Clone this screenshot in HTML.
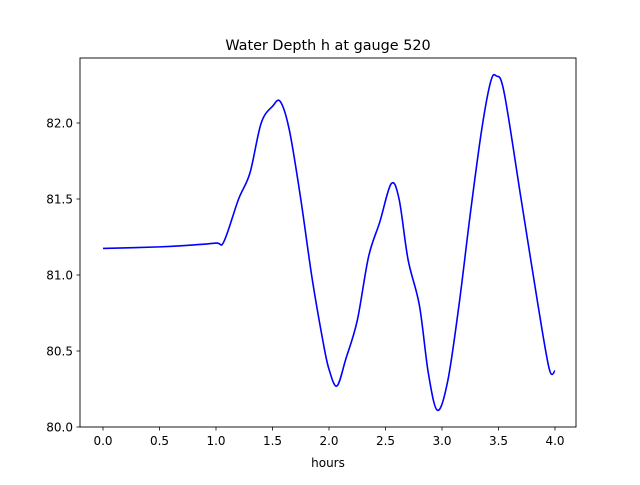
<!DOCTYPE html>
<html><head><meta charset="utf-8"><style>
body{margin:0;background:#fff;}
svg text{font-family:"DejaVu Sans","Liberation Sans",sans-serif;fill:#000;}
</style></head><body>
<svg id="chart" width="640" height="480" xmlns="http://www.w3.org/2000/svg">
<rect width="640" height="480" fill="#fff"/>
<text x="328" y="50" font-size="14.4" text-anchor="middle">Water Depth h at gauge 520</text>
<g id="xt"></g>
<g id="yt"></g>
<path id="line" fill="none" stroke="#0000ff" stroke-width="1.6"/>
<rect x="80" y="58" width="496" height="369" fill="none" stroke="#000" stroke-width="0.9"/>
<text x="328" y="467" font-size="12" text-anchor="middle">hours</text>
</svg>
<script>
const hours=[0,0.5,0.75,1.0,1.07,1.2,1.3,1.4,1.5,1.57,1.65,1.75,1.85,1.95,2.0,2.07,2.15,2.25,2.35,2.45,2.55,2.62,2.7,2.8,2.88,2.96,3.05,3.15,3.25,3.35,3.43,3.48,3.55,3.7,3.85,3.95,4.0];
const depth=[81.175,81.185,81.195,81.21,81.22,81.5,81.67,82.0,82.11,82.14,81.95,81.5,80.98,80.55,80.38,80.27,80.45,80.7,81.12,81.35,81.6,81.5,81.1,80.8,80.35,80.11,80.3,80.8,81.4,81.95,82.27,82.31,82.2,81.5,80.8,80.38,80.37];
const xTicks=[0,0.5,1,1.5,2,2.5,3,3.5,4];
const yTicks=[80,80.5,81,81.5,82];
const X=v=>103+v*113, Y=v=>427-(v-80)*152;
const NS="http://www.w3.org/2000/svg";
const xt=document.getElementById('xt'), yt=document.getElementById('yt');
xTicks.forEach(t=>{
  const l=document.createElementNS(NS,'line');
  
  
  l.setAttribute('x1',X(t));l.setAttribute('x2',X(t));l.setAttribute('y1',427);l.setAttribute('y2',430.5);l.setAttribute('stroke','#000');l.setAttribute('stroke-width','0.8');
  xt.appendChild(l);
  const s=document.createElementNS(NS,'text');
  
  
  s.setAttribute('x',X(t));s.setAttribute('y',445);s.setAttribute('font-size','12');s.setAttribute('text-anchor','middle');
  s.textContent=t.toFixed(1);xt.appendChild(s);
});
yTicks.forEach(t=>{
  const l=document.createElementNS(NS,'line');
  
  
  l.setAttribute('x1',76.5);l.setAttribute('x2',80);l.setAttribute('y1',Y(t));l.setAttribute('y2',Y(t));l.setAttribute('stroke','#000');l.setAttribute('stroke-width','0.8');
  yt.appendChild(l);
  const s=document.createElementNS(NS,'text');
  
  
  s.setAttribute('x',73);s.setAttribute('y',Y(t)+4.5);s.setAttribute('font-size','12');s.setAttribute('text-anchor','end');
  s.textContent=t.toFixed(1);yt.appendChild(s);
});
// Catmull-Rom smoothing
const P=hours.map((h,i)=>[X(h),Y(depth[i])]);
let d='M'+P[0][0]+','+P[0][1];
for(let i=0;i<P.length-1;i++){
  const p0=P[i-1]||P[i],p1=P[i],p2=P[i+1],p3=P[i+2]||P[i+1];
  const c1=[p1[0]+(p2[0]-p0[0])/6,p1[1]+(p2[1]-p0[1])/6];
  const c2=[p2[0]-(p3[0]-p1[0])/6,p2[1]-(p3[1]-p1[1])/6];
  d+=` C${c1[0]},${c1[1]} ${c2[0]},${c2[1]} ${p2[0]},${p2[1]}`;
}
document.getElementById('line').setAttribute('d',d);
</script>
</body></html>
